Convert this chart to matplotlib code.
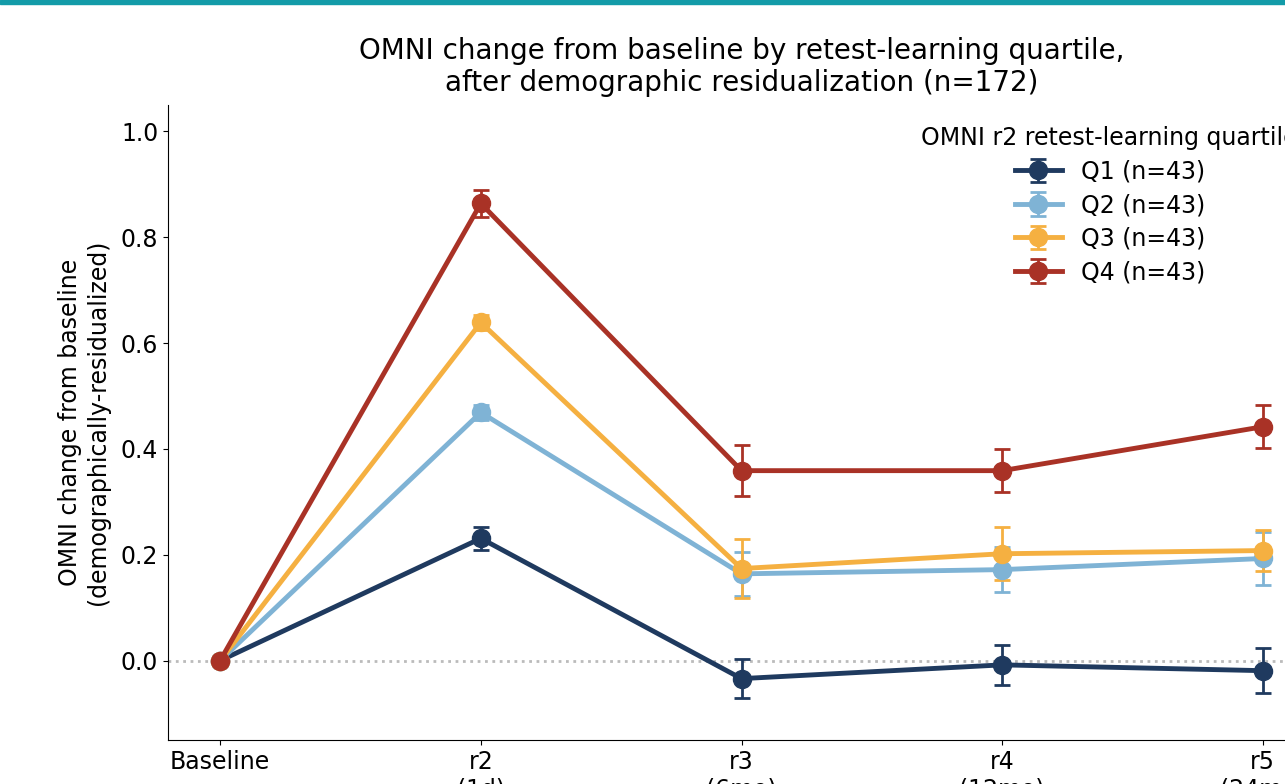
import matplotlib
matplotlib.use("Agg")
import matplotlib.pyplot as plt
from matplotlib.patches import Rectangle

# timepoints on the x axis
timepoints = ["Baseline", "r2\n(1d)", "r3\n(6mo)", "r4\n(12mo)", "r5\n(24mo)"]

# mean change from baseline per quartile
q1_mean = [0.0, 0.231, -0.034, -0.008, -0.019]
q2_mean = [0.0, 0.469, 0.164, 0.172, 0.193]
q3_mean = [0.0, 0.639, 0.174, 0.202, 0.208]
q4_mean = [0.0, 0.864, 0.359, 0.359, 0.442]

# standard errors
q1_err = [0.0, 0.022, 0.037, 0.038, 0.043]
q2_err = [0.0, 0.015, 0.042, 0.042, 0.050]
q3_err = [0.0, 0.015, 0.055, 0.050, 0.039]
q4_err = [0.0, 0.025, 0.048, 0.040, 0.041]

labels = ["Q1 (n=43)", "Q2 (n=43)", "Q3 (n=43)", "Q4 (n=43)"]
colors = ["#1f3a5f", "#7fb3d5", "#f5b041", "#a93226"]

fig = plt.figure(figsize=(12.85, 7.84), dpi=100)
# axes deliberately run past the right/bottom edge (cropped view)
ax = fig.add_axes([168 / 1285, 44 / 784, 1147 / 1285, 635 / 784])

# thin teal band along the top
fig.add_artist(Rectangle((0, 1 - 4 / 784), 1, 4 / 784, transform=fig.transFigure,
                         color="#139ba8", zorder=10))

x = list(range(len(timepoints)))
ax.axhline(0, color="#bbbbbb", linestyle=":", linewidth=2, zorder=0)

series = [(q1_mean, q1_err), (q2_mean, q2_err), (q3_mean, q3_err), (q4_mean, q4_err)]
for (mean, err), lab, col in zip(series, labels, colors):
    ax.errorbar(x, mean, yerr=err, color=col, linewidth=3.5, marker="o",
                markersize=13, capsize=6, capthick=2, elinewidth=2, label=lab)

ax.set_xticks(x)
ax.set_xticklabels(timepoints, fontsize=17)
ax.tick_params(axis="y", labelsize=17)
ax.set_xlim(-0.2, 4.2)
ax.set_ylim(-0.15, 1.05)
ax.set_yticks([0.0, 0.2, 0.4, 0.6, 0.8, 1.0])

ax.set_ylabel("OMNI change from baseline\n(demographically-residualized)",
              fontsize=17, labelpad=8)
ax.set_title("OMNI change from baseline by retest-learning quartile,\n"
             "after demographic residualization (n=172)", fontsize=20, pad=10)

ax.spines["top"].set_visible(False)
ax.spines["right"].set_visible(False)

ax.legend(title="OMNI r2 retest-learning quartile", loc="upper center",
          bbox_to_anchor=(0.821, 1.0), frameon=False, fontsize=17,
          title_fontsize=17, labelspacing=0.4)

fig.savefig("out.png", dpi=100)
